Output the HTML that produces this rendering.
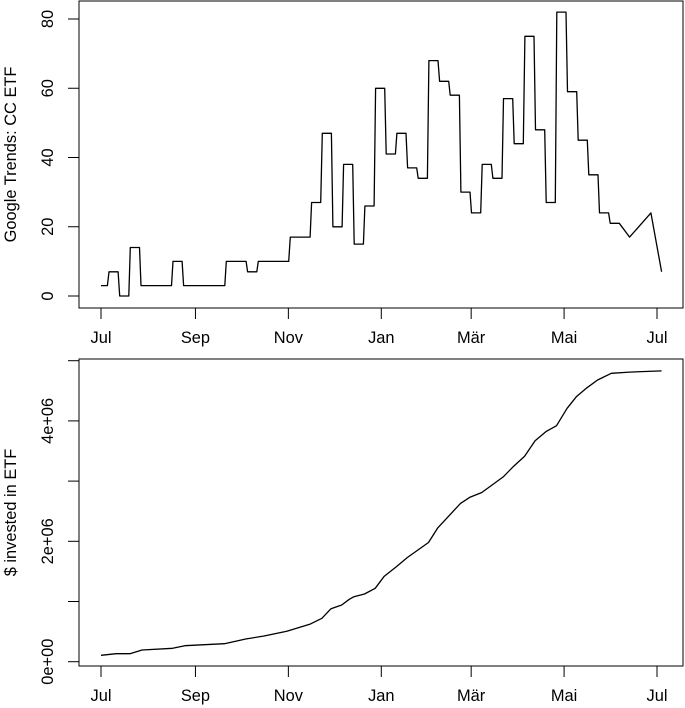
<!DOCTYPE html>
<html><head><meta charset="utf-8"><style>
html,body{margin:0;padding:0;background:#fff}
svg{display:block;font-family:"Liberation Sans",Arial,sans-serif}
</style></head><body>
<svg id="chart" width="685" height="708" viewBox="0 0 685 708" xmlns="http://www.w3.org/2000/svg"></svg>
<script>
// ---- data ----
const monthLabels = ["Jul","Sep","Nov","Jan","Mär","Mai","Jul"];
const monthDays = [0, 62, 123, 184, 243, 304, 365];
// top: weekly Google Trends values (first partial week then full weeks)
const trendWeekly = [3,7,0,14,3,3,3,10,3,3,3,3,10,10,7,10,10,10,17,17,27,47,20,38,15,26,60,41,47,37,34,68,62,58,30,24,38,34,57,44,75,48,27,82,59,45,35,24,21];
const trendTailDays = [347, 361, 368];
const trendTailValues = [17, 24, 7];
const trendTicks = [0,20,40,60,80];
// bottom: cumulative $ invested (millions)
const investDays = [0,10,19,27,47,55,81,95,107,122,137,145,151,158,163,166,173,180,186,194,201,215,221,236,242,250,264,271,278,285,292,299,306,312,319,326,335,347,368];
const investValues = [0.106,0.133,0.133,0.194,0.222,0.266,0.299,0.377,0.427,0.505,0.621,0.721,0.88,0.942,1.037,1.08,1.125,1.22,1.42,1.58,1.73,1.98,2.22,2.63,2.73,2.81,3.07,3.25,3.41,3.67,3.82,3.92,4.21,4.40,4.55,4.68,4.79,4.81,4.83];
const investTicks = [0,1,2,3,4,5];
const investTickLabels = ["0e+00","","2e+06","","4e+06",""];

const NS="http://www.w3.org/2000/svg";
const svg=document.getElementById('chart');
function mk(tag,attrs,parent){const e=document.createElementNS(NS,tag);for(const k in attrs)e.setAttribute(k,attrs[k]);(parent||svg).appendChild(e);return e;}
const xs = d => 101 + d*1.5233;
const FS = 16.4;

function panel(box, yScale, ticks, tickLabels, title, name){
  const g=mk('g',{});
  
  
  const r=mk('rect',{x:box.l,y:box.t,width:box.r-box.l,height:box.b-box.t,fill:'none',stroke:'#000','stroke-width':1},g);
  
  
  monthDays.forEach((d,i)=>{
    const x=xs(d);
    const t=mk('line',{x1:x,x2:x,y1:box.b,y2:box.b+11,stroke:'#000'},g);
    
    
    const tx=mk('text',{x:x,y:box.b+35,'text-anchor':'middle','font-size':FS},g);
    tx.textContent=monthLabels[i];
    
    
  });
  ticks.forEach((v,i)=>{
    const y=yScale(v);
    const t=mk('line',{x1:box.l-11,x2:box.l,y1:y,y2:y,stroke:'#000'},g);
    
    
    if(tickLabels[i]){
      const tx=mk('text',{x:0,y:0,'text-anchor':'middle','font-size':FS,transform:`translate(53,${y}) rotate(-90)`},g);
      tx.textContent=tickLabels[i];
      
      
    }
  });
  const tt=mk('text',{x:0,y:0,'text-anchor':'middle','font-size':FS,transform:`translate(16,${(box.t+box.b)/2}) rotate(-90)`},g);
  tt.textContent=title;
  
  
  return g;
}

// top panel
const topBox={l:79,t:1,r:683,b:308};
const yTop=v=>296 - v*3.4625;
const gTop=panel(topBox,yTop,trendTicks,trendTicks.map(String),"Google Trends: CC ETF","trends");
let pts=[];
trendWeekly.forEach((v,i)=>{
  if(i===0){pts.push([0,v],[4.2,v]);}
  else{const s=5.25+7*(i-1);pts.push([s,v],[s+6,v]);}
});
trendTailDays.forEach((d,i)=>pts.push([d,trendTailValues[i]]));
const l1=mk('polyline',{points:pts.map(p=>xs(p[0]).toFixed(1)+','+yTop(p[1]).toFixed(1)).join(' '),fill:'none',stroke:'#000','stroke-width':1.3,'stroke-linejoin':'round'},gTop);



// bottom panel
const botBox={l:79,t:359,r:683,b:666};
const yBot=v=>661.7 - v*60.2;
const gBot=panel(botBox,yBot,investTicks,investTickLabels,"$ invested in ETF","invested");
const l2=mk('polyline',{points:investDays.map((d,i)=>xs(d).toFixed(1)+','+yBot(investValues[i]).toFixed(1)).join(' '),fill:'none',stroke:'#000','stroke-width':1.3,'stroke-linejoin':'round'},gBot);


</script>
</body></html>
